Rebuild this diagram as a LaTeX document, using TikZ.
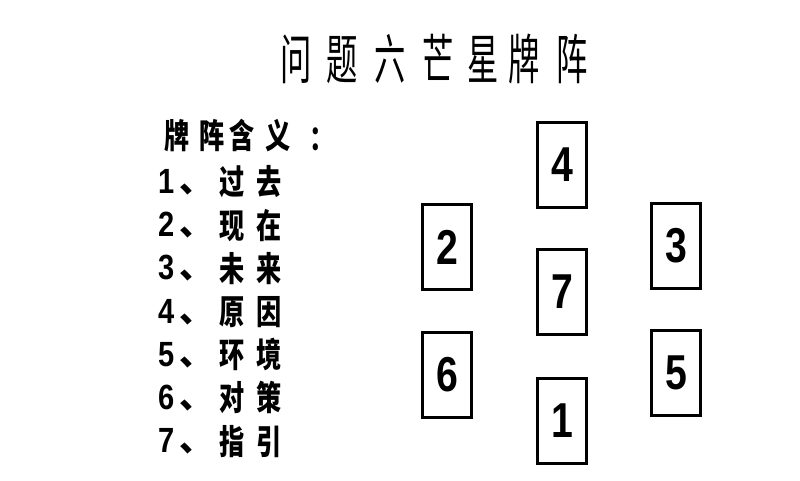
\documentclass[tikz,border=0pt]{standalone}
\usepackage{fontspec}
\usepackage{graphicx}
\setmainfont{Liberation Sans}
\newfontfamily\cjk{Noto Sans CJK SC}
\newcommand\nx[1]{\scalebox{0.74}[1]{#1}}
\newcommand\tx[1]{\scalebox{0.58}[1]{#1}}
\newcommand\dx[1]{\scalebox{0.83}[1]{#1}}
\newcommand\cx[1]{\scalebox{0.8}[1]{#1}}
\begin{document}
\begin{tikzpicture}[x=1pt,y=-1pt,
  card/.style={draw, line width=3pt, minimum width=49pt, minimum height=85pt, inner sep=0pt, font=\bfseries\fontsize{49}{49}\selectfont},
  cj/.style={inner sep=0pt, text height=29.9pt, text depth=4.1pt, font=\cjk\bfseries\fontsize{34}{34}\selectfont},
  dg/.style={inner sep=0pt, font=\bfseries\fontsize{35}{35}\selectfont},
  tt/.style={inner sep=0pt, text height=47.5pt, text depth=6.5pt, font=\cjk\fontsize{54}{54}\selectfont}]
\useasboundingbox[fill=white] (0,0) rectangle (800,480);
% title
\foreach \c/\x [count=\n] in {问/296,题/342,六/390,芒/438,星/483,牌/524,阵/572}
  \node[tt] (t\n) at (\x,59) {\tx{\c}};
% header
\foreach \c/\x [count=\n] in {牌/177,阵/212,含/242,义/278}
  \node[cj] (h\n) at (\x,136) {\nx{\c}};
\node[cj] (h5) at (322,138) {\nx{：}};
% rows
\foreach \i/\a/\b in {1/过/去,2/现/在,3/未/来,4/原/因,5/环/境,6/对/策,7/指/引}{
  \node[dg] (d\i) at (167,{181.5+(\i-1)*43.2}) {\dx{\i}};
  \node[cj] (p\i) at (196.5,{179.5+(\i-1)*43.2}) {、};
  \node[cj] (a\i) at (232,{182+(\i-1)*43.2}) {\nx{\a}};
  \node[cj] (b\i) at (269,{182+(\i-1)*43.2}) {\nx{\b}};
}
% cards
\node[card] (c4) at (562,165) {\cx{4}};
\node[card] (c2) at (447,247) {\cx{2}};
\node[card] (c3) at (676,245.5) {\cx{3}};
\node[card] (c7) at (562,292) {\cx{7}};
\node[card] (c6) at (447,374.5) {\cx{6}};
\node[card] (c5) at (676,373) {\cx{5}};
\node[card] (c1) at (562,420.5) {\cx{1}};
\end{tikzpicture}
\end{document}
